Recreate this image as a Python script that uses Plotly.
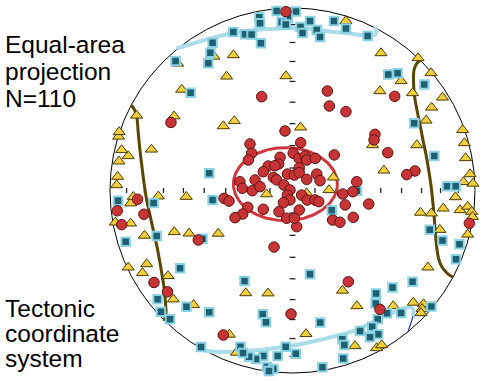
import numpy as np
import plotly.graph_objects as go

# Equal-area projected positions on a unit primitive circle (east, north)
circles_e = [-0.041, -0.233, 0.045, -0.224, -0.242, -0.068, -0.076, -0.133, -0.096, -0.160,
             0.004, 0.036, 0.070, 0.078, 0.125, 0.037, -0.028, 0.010, 0.037, 0.078,
             0.133, 0.151, -0.105, -0.087, -0.205, -0.288, -0.275, -0.220, -0.178, -0.047,
             -0.014, -0.028, -0.014, -0.050, 0.050, 0.081, 0.123, 0.144, 0.229, 0.352,
             0.330, 0.275, 0.289, 0.418, 0.333, 0.220, 0.260, 0.023, 0.037, -0.032,
             0.010, -0.074, -0.160, -0.245, -0.273, -0.315, -0.375, -0.348, -0.101, -0.008,
             0.306, 0.479, -0.379, -0.516, -0.849, -0.960, -0.814, -0.936, -0.759, -0.685,
             0.969, -0.666, -0.036, -0.169, 0.191, 0.202, 0.293, 0.560, 0.452, 0.447,
             0.522, 0.671, 0.626]
circles_n = [0.326, 0.255, 0.262, 0.204, 0.167, 0.182, 0.145, 0.134, 0.136, 0.103,
             0.204, 0.176, 0.189, 0.167, 0.176, 0.125, 0.090, 0.085, 0.098, 0.061,
             0.090, 0.054, 0.072, 0.058, 0.058, 0.048, 0.012, -0.001, 0.021, 0.030,
             0.003, -0.025, -0.052, -0.067, -0.025, -0.052, -0.052, -0.061, 0.195, 0.048,
             -0.007, -0.019, -0.079, -0.074, -0.147, -0.162, -0.174, -0.198, -0.107, -0.152,
             -0.152, -0.116, -0.103, -0.092, -0.129, -0.149, -0.043, -0.058, -0.310, -0.677,
             -0.500, -0.651, -0.792, -0.271, -0.048, -0.111, -0.130, -0.187, -0.504, -0.555,
             -0.180, 0.373, 0.980, 0.514, 0.545, 0.463, 0.432, 0.516, 0.308, 0.277,
             0.207, 0.107, 0.087]

squares_e = [-0.087, 0.019, -0.025, -0.182, -0.178, -0.059, -0.037, 0.096, 0.227, 0.293,
             0.044, 0.055, 0.133, 0.151, -0.324, -0.260, -0.224, -0.173, -0.438, -0.450,
             -0.461, -0.641, -0.558, 0.412, 0.525, 0.576, 0.722, 0.667, 0.777, 0.847,
             0.894, 0.752, 0.822, 0.915, 0.896, -0.456, -0.438, -0.761, -0.956, -0.744,
             -0.914, -0.493, 0.353, 0.215, -0.616, -0.263, 0.096, 0.658, 0.548, 0.458,
             0.456, 0.761, 0.595, 0.518, 0.467, -0.739, -0.721, -0.671, -0.581, -0.456,
             -0.163, -0.145, 0.152, 0.370, 0.437, 0.470, 0.425, 0.273, 0.284, -0.037,
             0.018, -0.081, -0.160, -0.200, -0.238, -0.285, -0.271, -0.501, -0.140, -0.105,
             -0.129, 0.164, 0.278]
squares_n = [0.984, 0.981, 0.945, 0.949, 0.916, 0.923, 0.910, 0.929, 0.929, 0.888,
             0.896, 0.863, 0.879, 0.841, 0.868, 0.856, 0.855, 0.807, 0.810, 0.755,
             0.697, 0.710, 0.536, 0.847, 0.635, 0.642, 0.581, 0.368, 0.189, 0.023,
             0.023, -0.215, -0.274, -0.295, -0.377, 0.094, -0.052, -0.068, -0.056, -0.249,
             -0.281, -0.264, -0.001, -0.108, -0.426, -0.496, -0.459, -0.500, -0.532, -0.564,
             -0.619, -0.635, -0.671, -0.673, -0.706, -0.596, -0.664, -0.706, -0.637, -0.667,
             -0.678, -0.722, -0.723, -0.770, -0.746, -0.788, -0.804, -0.815, -0.847, -0.856,
             -0.894, -0.907, -0.907, -0.923, -0.911, -0.856, -0.890, -0.858, -0.967, -0.978,
             -0.989, -0.969, -0.921]

triangles_e = [0.293, 0.485, 0.688, 0.759, 0.595, 0.479, 0.658, 0.822, 0.762, 0.732,
               0.932, 0.942, 0.681, 0.948, 0.501, 0.973, 0.937, 0.989, 0.893, 0.826,
               0.918, 0.960, 0.982, 0.986, 0.701, 0.761, 0.808, 0.960, 0.742, 0.662,
               0.718, 0.710, 0.704, 0.552, 0.353, 0.274, 0.342, 0.461, 0.489, 0.074,
               -0.134, -0.256, -0.307, -0.346, -0.542, -0.653, -0.682, -0.799, -0.822, -0.900,
               -0.811, -0.648, -0.567, -0.407, -0.887, -0.971, -0.887, -0.872, -0.735, -0.582,
               -0.142, 0.078, 0.200, 0.224, -0.963, -0.958, -0.951, -0.900, -0.936, -0.773,
               -0.953, -0.950, -0.854, -0.649, -0.379, -0.319, 0.044, 0.439, -0.607, -0.361,
               -0.036, -0.430, -0.324, -0.629]
triangles_n = [0.929, 0.753, 0.726, 0.644, 0.600, 0.545, 0.534, 0.510, 0.455, 0.384,
               0.332, 0.260, 0.249, 0.178, 0.110, 0.090, 0.047, 0.038, -0.036, -0.098,
               -0.107, -0.088, -0.116, -0.144, -0.121, -0.125, -0.215, -0.241, -0.421, -0.614,
               -0.622, -0.649, -0.671, -0.633, -0.633, -0.548, -0.852, -0.863, -0.847, -0.786,
               -0.563, -0.562, -0.888, -0.789, -0.627, -0.596, -0.468, -0.403, -0.452, -0.421,
               -0.247, -0.227, -0.235, -0.236, -0.180, -0.175, -0.070, -0.034, -0.032, -0.034,
               -0.020, -0.015, 0.003, 0.072, 0.030, 0.076, 0.160, 0.189, 0.222, 0.225,
               0.296, 0.321, 0.411, 0.407, 0.353, 0.381, 0.346, 0.249, 0.553, 0.625,
               0.627, 0.734, 0.742, 0.696]

# Traced cone / girdle curves (projected east, north)
west_arc_e = [-0.885, -0.868, -0.855, -0.845, -0.836, -0.826, -0.816, -0.799, -0.781, -0.763,
              -0.742, -0.726, -0.712, -0.702, -0.696, -0.693, -0.699, -0.704]
west_arc_n = [0.468, 0.447, 0.414, 0.315, 0.222, 0.140, 0.058, -0.052, -0.134, -0.216,
              -0.310, -0.397, -0.479, -0.545, -0.616, -0.666, -0.699, -0.715]
east_arc_e = [0.701, 0.679, 0.666, 0.663, 0.668, 0.682, 0.699, 0.715, 0.732, 0.748,
              0.762, 0.773, 0.781, 0.789, 0.800, 0.816, 0.841, 0.863, 0.882]
east_arc_n = [0.715, 0.693, 0.660, 0.605, 0.523, 0.441, 0.359, 0.277, 0.195, 0.101,
              0.003, -0.107, -0.205, -0.299, -0.370, -0.414, -0.447, -0.466, -0.474]
north_arc_e = [-0.635, -0.562, -0.479, -0.397, -0.315, -0.233, -0.123, -0.014, 0.096, 0.205,
               0.315, 0.397, 0.436, 0.458, 0.458, 0.447]
north_arc_n = [0.778, 0.800, 0.825, 0.847, 0.866, 0.877, 0.885, 0.889, 0.886, 0.871,
               0.860, 0.849, 0.847, 0.860, 0.879, 0.896]
south_arc_e = [-0.479, -0.397, -0.288, -0.162, -0.030, 0.112, 0.260, 0.370, 0.479, 0.573,
               0.616, 0.644, 0.660, 0.663, 0.660]
south_arc_n = [-0.879, -0.884, -0.882, -0.871, -0.855, -0.827, -0.792, -0.755, -0.701, -0.660,
               -0.644, -0.640, -0.649, -0.666, -0.688]
south_tail_e = [0.660, 0.649, 0.633]
south_tail_n = [-0.688, -0.726, -0.773]

# Mean-vector confidence ellipse: centre and semi-axes
ellipse_centre = (-0.039, 0.035)
ellipse_axes = (0.285, 0.200)

tick_angles = [10, 20, 30, 40, 50, 60, 70, 80]

fig = go.Figure()

# equal-area radius of each 10-degree step along the axes
radii = [np.sqrt(2) * np.sin(np.radians(a) / 2) for a in tick_angles]
hx, hy, vx, vy = [], [], [], []
for r in radii:
    for s in (-1, 1):
        hx += [s * r, s * r, None]
        hy += [-0.014, 0.014, None]
        vx += [-0.016, 0.016, None]
        vy += [s * r, s * r, None]
for xs, ys in ((hx, hy), (vx, vy)):
    fig.add_trace(go.Scatter(x=xs, y=ys, mode="lines",
                             line=dict(color="#222222", width=1.3),
                             hoverinfo="skip", showlegend=False))

for xs, ys, col, w in ((north_arc_e, north_arc_n, "#aadcea", 4),
                       (south_arc_e, south_arc_n, "#aadcea", 4),
                       (south_tail_e, south_tail_n, "#2233cc", 1.2),
                       (west_arc_e, west_arc_n, "#5a4600", 3),
                       (east_arc_e, east_arc_n, "#5a4600", 3)):
    fig.add_trace(go.Scatter(x=xs, y=ys, mode="lines",
                             line=dict(color=col, width=w, shape="spline"),
                             hoverinfo="skip", showlegend=False))

t = np.linspace(0, 2 * np.pi, 200)
fig.add_trace(go.Scatter(x=ellipse_centre[0] + ellipse_axes[0] * np.cos(t),
                         y=ellipse_centre[1] + ellipse_axes[1] * np.sin(t),
                         mode="lines", line=dict(color="#d0363c", width=3),
                         hoverinfo="skip", showlegend=False))

fig.add_trace(go.Scatter(x=triangles_e, y=triangles_n, mode="markers",
                         marker=dict(symbol="triangle-up", size=10.5, color="#f3cf3b",
                                     line=dict(color="#4a3b05", width=1)),
                         showlegend=False))
fig.add_trace(go.Scatter(x=squares_e, y=squares_n, mode="markers",
                         marker=dict(symbol="square", size=8.5, color="#1e5f72",
                                     line=dict(color="#8bd2e3", width=2)),
                         showlegend=False))
fig.add_trace(go.Scatter(x=circles_e, y=circles_n, mode="markers",
                         marker=dict(symbol="circle", size=10.5, color="#c83436",
                                     line=dict(color="#5c1412", width=1)),
                         showlegend=False))

# primitive circle
fig.add_shape(type="circle", x0=-1, y0=-1, x1=1, y1=1, layer="below",
              line=dict(color="black", width=1))

W, H = 482, 381
label_lines = [("Equal-area", 53), ("projection", 80), ("N=110", 107),
               ("Tectonic", 317), ("coordinate", 342), ("system", 367)]
for txt, base in label_lines:
    fig.add_annotation(text=txt, xref="paper", yref="paper",
                       x=3 / W, y=1 - (base - 8.5) / H, xanchor="left", yanchor="middle",
                       showarrow=False,
                       font=dict(family="Liberation Sans, Arial, sans-serif", size=24.5,
                                 color="black"))

fig.update_layout(
    width=W, height=H,
    margin=dict(l=0, r=0, t=0, b=0),
    paper_bgcolor="white", plot_bgcolor="white",
    xaxis=dict(range=[-1.6027, 1.0384], visible=False, fixedrange=True),
    yaxis=dict(range=[-1.0438, 1.0438], visible=False, fixedrange=True),
)

fig.write_html("out.html")
